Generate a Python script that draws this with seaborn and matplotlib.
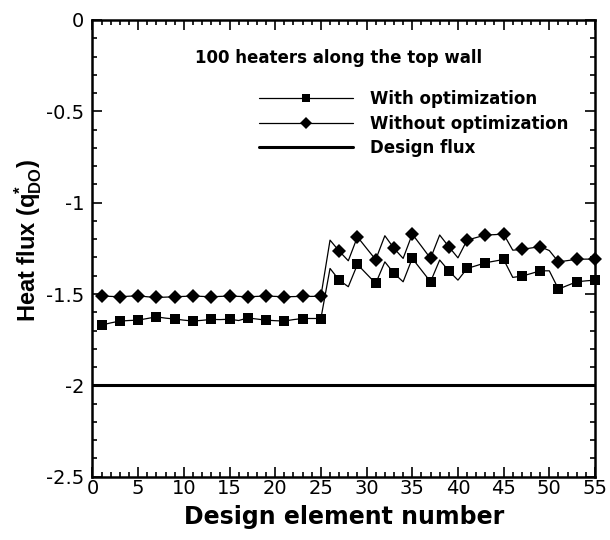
import matplotlib
matplotlib.use("Agg")
import matplotlib.pyplot as plt
import pandas as pd
import seaborn as sns
from matplotlib.ticker import MultipleLocator

# Design element index along the heated wall
element = list(range(1, 56))

# Heat flux per design element with the optimized heater strengths
with_opt = [
    -1.670, -1.658, -1.648, -1.645, -1.643, -1.634, -1.625, -1.632, -1.637, -1.643,
    -1.648, -1.644, -1.639, -1.640, -1.638, -1.645, -1.631, -1.637, -1.643, -1.646,
    -1.648, -1.640, -1.634, -1.634, -1.634, -1.360, -1.424, -1.460, -1.338, -1.390,
    -1.442, -1.324, -1.387, -1.433, -1.305, -1.369, -1.433, -1.314, -1.373, -1.424,
    -1.360, -1.345, -1.329, -1.320, -1.311, -1.409, -1.402, -1.388, -1.373, -1.373,
    -1.473, -1.453, -1.433, -1.428, -1.424,
]

# Heat flux per design element with the initial (uniform) heater strengths
without_opt = [
    -1.511, -1.513, -1.515, -1.512, -1.510, -1.515, -1.519, -1.517, -1.515, -1.513,
    -1.511, -1.513, -1.515, -1.513, -1.511, -1.513, -1.515, -1.513, -1.511, -1.513,
    -1.515, -1.514, -1.513, -1.513, -1.512, -1.205, -1.265, -1.318, -1.187, -1.250,
    -1.312, -1.181, -1.250, -1.305, -1.172, -1.238, -1.305, -1.177, -1.241, -1.302,
    -1.205, -1.191, -1.177, -1.175, -1.172, -1.260, -1.256, -1.248, -1.241, -1.262,
    -1.324, -1.317, -1.310, -1.309, -1.309,
]

design_flux = -2.0

x_ticks = [0, 5, 10, 15, 20, 25, 30, 35, 40, 45, 50, 55]
y_ticks = [0, -0.5, -1, -1.5, -2, -2.5]
y_tick_labels = ["0", "-0.5", "-1", "-1.5", "-2", "-2.5"]

sns.set_theme(style="ticks")
plt.rcParams["font.family"] = ["DejaVu Sans"]
plt.rcParams["text.color"] = "black"
plt.rcParams["axes.labelcolor"] = "black"
plt.rcParams["xtick.color"] = "black"
plt.rcParams["ytick.color"] = "black"
plt.rcParams["mathtext.fontset"] = "custom"
plt.rcParams["mathtext.rm"] = "Liberation Sans:bold"
plt.rcParams["mathtext.it"] = "Liberation Sans:bold"
plt.rcParams["mathtext.bf"] = "Liberation Sans:bold"

df = pd.DataFrame({
    "element": element,
    "with_opt": with_opt,
    "without_opt": without_opt,
})

fig = plt.figure(figsize=(6.1, 5.4), dpi=100)
ax = fig.add_axes([0.1516, 0.1172, 0.8238, 0.8458])

sns.lineplot(data=df, x="element", y="with_opt", ax=ax, color="black",
             linewidth=0.9, marker="s", markersize=7.2, markeredgewidth=0,
             markevery=2, clip_on=False, label="With optimization")
sns.lineplot(data=df, x="element", y="without_opt", ax=ax, color="black",
             linewidth=0.9, marker="D", markersize=7.2, markeredgewidth=0,
             markevery=2, clip_on=False, label="Without optimization")
ax.axhline(design_flux, color="black", linewidth=2.2, label="Design flux")

ax.set_xlim(0, 55)
ax.set_ylim(-2.5, 0)
ax.set_xticks(x_ticks)
ax.set_xticklabels([str(t) for t in x_ticks])
ax.set_yticks(y_ticks)
ax.set_yticklabels(y_tick_labels)
ax.xaxis.set_minor_locator(MultipleLocator(1))
ax.yaxis.set_minor_locator(MultipleLocator(0.1))
ax.tick_params(which="both", direction="in", top=True, right=True,
               color="black", labelcolor="black", width=1.2, labelsize=14)
ax.tick_params(which="major", length=7)
ax.tick_params(which="minor", length=3.5)
ax.tick_params(axis="x", which="major", pad=2)
ax.tick_params(axis="y", which="major", pad=6)
for s in ax.spines.values():
    s.set_linewidth(1.8)
    s.set_color("black")

ax.set_xlabel("Design element number", fontsize=17, fontweight="bold",
              labelpad=5, color="black")
ax.set_ylabel(r"Heat flux (q$^{*}_{\mathrm{DO}}$)", fontsize=17,
              fontweight="bold", family="Liberation Sans", color="black")
ax.yaxis.set_label_coords(-0.097, 0.518)

ax.text(11.2, -0.208, "100 heaters along the top wall", fontsize=12,
        fontweight="bold", va="center", ha="left", color="black")

leg = ax.legend(loc="upper left", bbox_to_anchor=(0.331, 0.846), frameon=False,
                fontsize=12, handlelength=5.65, handletextpad=1.0,
                labelspacing=0.39, borderpad=0, borderaxespad=0, numpoints=1)
for t in leg.get_texts():
    t.set_fontweight("bold")
    t.set_color("black")
for h in leg.legend_handles:
    h.set_markersize(6)

fig.savefig("out.png", dpi=100)
